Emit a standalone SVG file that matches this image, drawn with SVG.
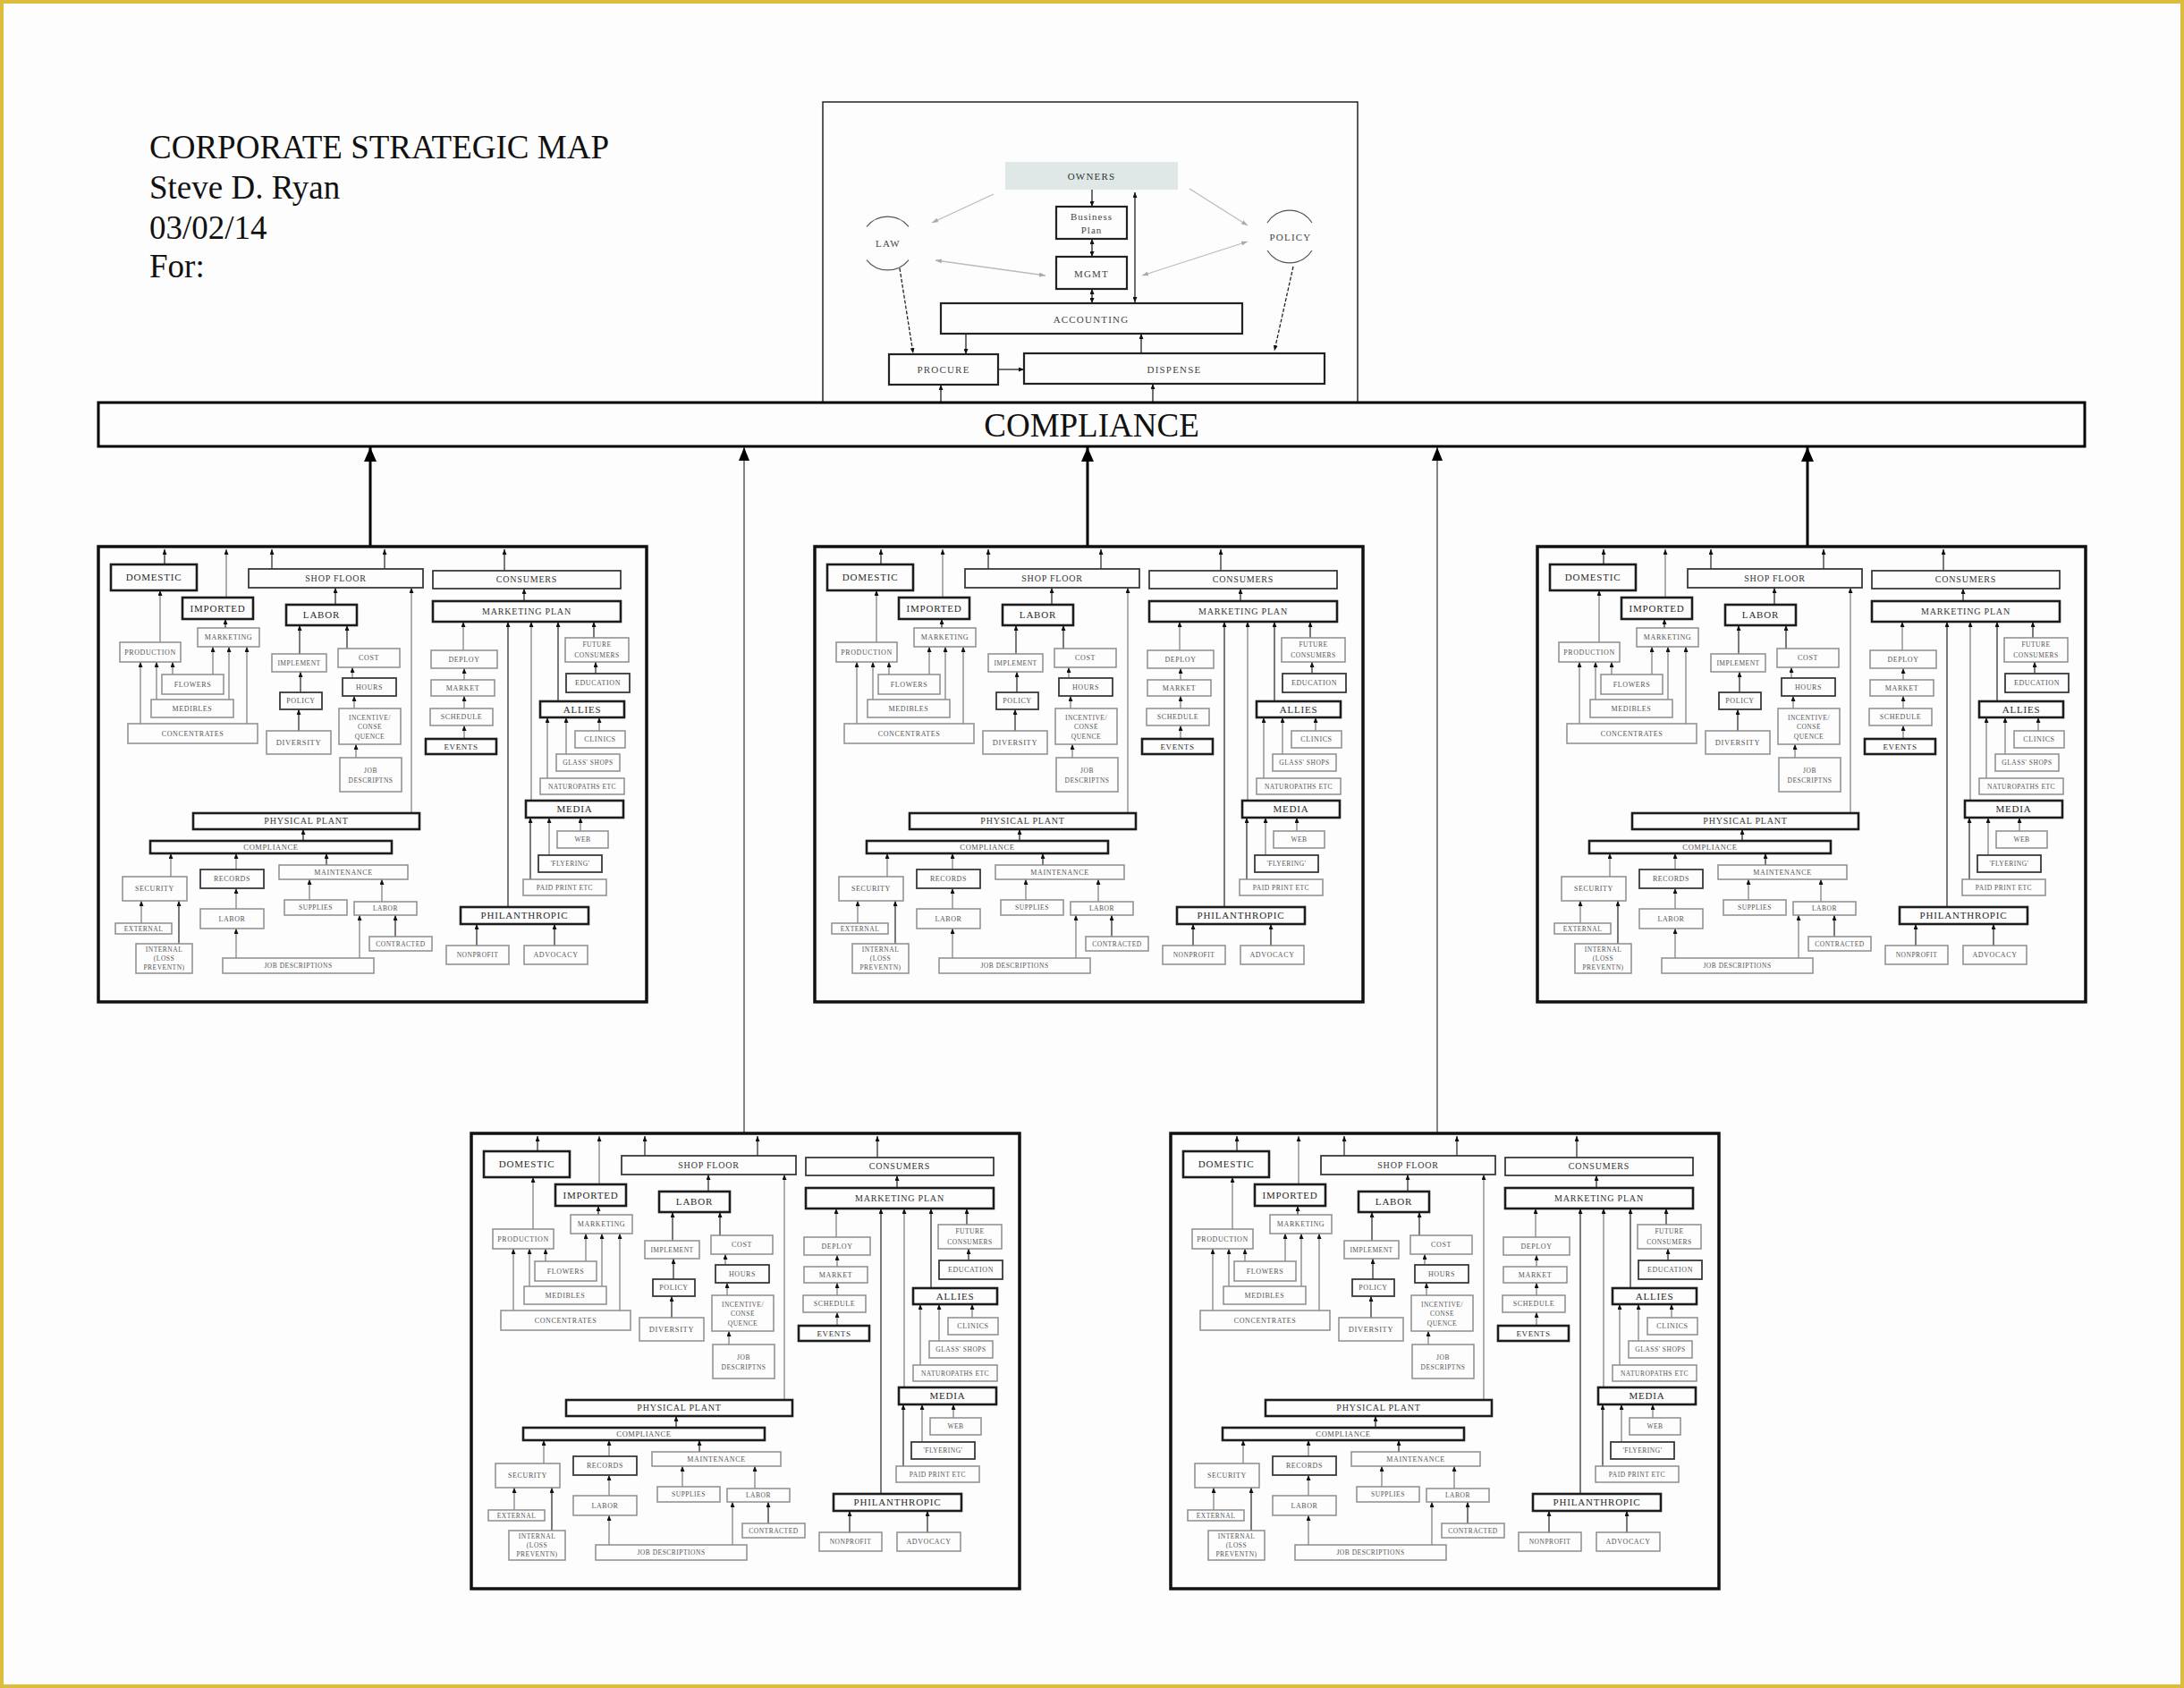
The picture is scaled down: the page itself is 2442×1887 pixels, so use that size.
<svg xmlns="http://www.w3.org/2000/svg" xmlns:xlink="http://www.w3.org/1999/xlink" width="2442" height="1887" viewBox="0 0 2442 1887">
<style>
text{font-family:"Liberation Serif","Times New Roman",serif;text-anchor:middle}
.title{font-size:37px;fill:#111;text-anchor:start}
.rb{fill:#fdfdfd;stroke:#1c1c1c;stroke-width:2.6}
.rm{fill:#fdfdfd;stroke:#3a3a3a;stroke-width:1.8}
.rl{fill:#fdfdfd;stroke:#8c8c8c;stroke-width:1.5}
.tb{font-size:11px;fill:#2a2a2a;letter-spacing:0.8px}
.tm{font-size:10px;fill:#333;letter-spacing:0.8px}
.ts{font-size:8px;fill:#555;letter-spacing:0.6px}
.tx{font-size:7.5px;fill:#555;letter-spacing:0.5px}
.cd{stroke:#333;stroke-width:1.3;fill:none;marker-end:url(#a)}
.cg{stroke:#9a9a9a;stroke-width:1.6;fill:none;marker-end:url(#a)}
.tt{font-size:11px;fill:#444;letter-spacing:1.2px}
.bx{fill:#fdfdfd;stroke:#222;stroke-width:2.2}
.kl{stroke:#222;stroke-width:1.3;fill:none}
.gl{stroke:#bbbbbb;stroke-width:1.3;fill:none}
.arc{stroke:#555;stroke-width:1.2;fill:none}
</style>
<defs>
<marker id="a" markerUnits="userSpaceOnUse" markerWidth="6" markerHeight="5" refX="6" refY="2.5" orient="auto-start-reverse"><path d="M0,0 L6,2.5 L0,5 Z" fill="#111"/></marker>
<marker id="g" markerUnits="userSpaceOnUse" markerWidth="7" markerHeight="5" refX="7" refY="2.5" orient="auto-start-reverse"><path d="M0,0 L7,2.5 L0,5 Z" fill="#aaa"/></marker>
<marker id="A" markerUnits="userSpaceOnUse" markerWidth="16" markerHeight="14" refX="16" refY="7" orient="auto"><path d="M0,0 L16,7 L0,14 Z" fill="#000"/></marker>
<marker id="B" markerUnits="userSpaceOnUse" markerWidth="15" markerHeight="12" refX="15" refY="6" orient="auto"><path d="M0,0 L15,6 L0,12 Z" fill="#000"/></marker>
<g id="panel">
<rect x="110" y="611" width="613" height="509" fill="#fdfdfd" stroke="#111" stroke-width="3.5"/>
<g class="connectors">
<line class="cd" x1="184" y1="631" x2="184" y2="614"/>
<line class="cg" x1="253" y1="668" x2="253" y2="614"/>
<line class="cd" x1="304" y1="636" x2="304" y2="614"/>
<line class="cd" x1="430" y1="636" x2="430" y2="614"/>
<line class="cd" x1="564" y1="638" x2="564" y2="614"/>
<line class="cd" x1="252" y1="702" x2="252" y2="692"/>
<line class="cg" x1="179" y1="718" x2="179" y2="660"/>
<line class="cg" x1="157" y1="809" x2="157" y2="740"/>
<line class="cg" x1="175" y1="782" x2="175" y2="740"/>
<line class="cg" x1="193" y1="754" x2="193" y2="740"/>
<line class="cg" x1="238" y1="754" x2="238" y2="723"/>
<line class="cg" x1="256" y1="782" x2="256" y2="723"/>
<line class="cg" x1="276" y1="809" x2="276" y2="723"/>
<line class="cd" x1="375" y1="676" x2="375" y2="657"/>
<line class="cg" x1="460" y1="909" x2="460" y2="657"/>
<line class="cd" x1="335" y1="731" x2="335" y2="699"/>
<line class="cd" x1="388" y1="725" x2="388" y2="699"/>
<line class="cd" x1="336" y1="774" x2="336" y2="751"/>
<line class="cd" x1="334" y1="817" x2="334" y2="793"/>
<line class="cg" x1="394" y1="758" x2="394" y2="746"/>
<line class="cg" x1="396" y1="792" x2="396" y2="778"/>
<line class="cg" x1="398" y1="847" x2="398" y2="832"/>
<line class="cd" x1="586" y1="672" x2="586" y2="658"/>
<line class="cg" x1="518" y1="727" x2="518" y2="695"/>
<line class="cg" x1="519" y1="760" x2="519" y2="747"/>
<line class="cg" x1="519" y1="792" x2="519" y2="778"/>
<line class="cg" x1="519" y1="826" x2="519" y2="811"/>
<line class="cd" x1="568" y1="1014" x2="568" y2="695"/>
<line class="cg" x1="594" y1="895" x2="594" y2="695"/>
<line class="cd" x1="624" y1="784" x2="624" y2="695"/>
<line class="cd" x1="664" y1="713" x2="664" y2="695"/>
<line class="cd" x1="666" y1="753" x2="666" y2="740"/>
<line class="cg" x1="670" y1="817" x2="670" y2="802"/>
<line class="cg" x1="633" y1="843" x2="633" y2="802"/>
<line class="cg" x1="612" y1="870" x2="612" y2="802"/>
<line class="cg" x1="649" y1="929" x2="649" y2="914"/>
<line class="cg" x1="614" y1="956" x2="614" y2="914"/>
<line class="cd" x1="593" y1="983" x2="593" y2="914"/>
<line class="cd" x1="533" y1="1057" x2="533" y2="1033"/>
<line class="cd" x1="620" y1="1057" x2="620" y2="1033"/>
<line class="cd" x1="339" y1="940" x2="339" y2="927"/>
<line class="cg" x1="191" y1="980" x2="191" y2="954"/>
<line class="cg" x1="264" y1="972" x2="264" y2="954"/>
<line class="cd" x1="365" y1="967" x2="365" y2="954"/>
<line class="cg" x1="158" y1="1032" x2="158" y2="1007"/>
<line class="cd" x1="200" y1="1055" x2="200" y2="1007"/>
<line class="cg" x1="264" y1="1016" x2="264" y2="993"/>
<line class="cg" x1="346" y1="1006" x2="346" y2="983"/>
<line class="cg" x1="427" y1="1008" x2="427" y2="983"/>
<line class="cd" x1="442" y1="1047" x2="442" y2="1023"/>
<line class="cg" x1="264" y1="1071" x2="264" y2="1038"/>
<line class="cg" x1="402" y1="1071" x2="402" y2="1023"/>
</g>
<g id="p-domestic"><rect class="rb" x="124" y="631" width="96" height="29"/><text class="tb" x="172" y="649">DOMESTIC</text></g>
<g id="p-imported"><rect class="rb" x="204" y="668" width="79" height="24"/><text class="tb" x="243.5" y="683.7">IMPORTED</text></g>
<g id="p-shopfloor"><rect class="rm" x="278" y="636" width="195" height="21"/><text class="tm" x="375.5" y="649.8">SHOP FLOOR</text></g>
<g id="p-consumers"><rect class="rm" x="484" y="638" width="210" height="20"/><text class="tm" x="589" y="651.3">CONSUMERS</text></g>
<g id="p-mplan"><rect class="rb" x="484" y="672" width="210" height="23"/><text class="tm" x="589" y="687">MARKETING PLAN</text></g>
<g id="p-marketing"><rect class="rl" x="221" y="702" width="69" height="21"/><text class="ts" x="255.5" y="715.2">MARKETING</text></g>
<g id="p-production"><rect class="rl" x="134" y="718" width="68" height="22"/><text class="ts" x="168" y="731.7">PRODUCTION</text></g>
<g id="p-labor"><rect class="rb" x="320" y="676" width="79" height="23"/><text class="tb" x="359.5" y="691.2">LABOR</text></g>
<g id="p-implement"><rect class="rl" x="304" y="731" width="61" height="20"/><text class="tx" x="334.5" y="743.5">IMPLEMENT</text></g>
<g id="p-cost"><rect class="rl" x="378" y="725" width="69" height="21"/><text class="ts" x="412.5" y="738.2">COST</text></g>
<g id="p-hours"><rect class="rm" x="383" y="758" width="60" height="20"/><text class="ts" x="413" y="770.7">HOURS</text></g>
<g id="p-flowers"><rect class="rl" x="181" y="754" width="69" height="22"/><text class="ts" x="215.5" y="767.7">FLOWERS</text></g>
<g id="p-medibles"><rect class="rl" x="169" y="782" width="92" height="20"/><text class="ts" x="215" y="794.7">MEDIBLES</text></g>
<g id="p-concentrates"><rect class="rl" x="143" y="809" width="145" height="22"/><text class="ts" x="215.5" y="822.7">CONCENTRATES</text></g>
<g id="p-policy"><rect class="rm" x="313" y="774" width="47" height="19"/><text class="ts" x="336.5" y="786.2">POLICY</text></g>
<g id="p-diversity"><rect class="rl" x="298" y="817" width="72" height="26"/><text class="ts" x="334" y="833" style="font-size:8.5px">DIVERSITY</text></g>
<g id="p-incentive"><rect class="rl" x="379" y="792" width="69" height="40"/><text class="tx" x="413.5" y="805">INCENTIVE/</text><text class="tx" x="413.5" y="815">CONSE</text><text class="tx" x="413.5" y="825.5">QUENCE</text></g>
<g id="p-jobd"><rect class="rl" x="380" y="847" width="69" height="38"/><text class="tx" x="414.5" y="864">JOB</text><text class="tx" x="414.5" y="875">DESCRIPTNS</text></g>
<g id="p-deploy"><rect class="rl" x="482" y="727" width="74" height="20"/><text class="ts" x="519" y="739.7">DEPLOY</text></g>
<g id="p-market"><rect class="rl" x="482" y="760" width="71" height="18"/><text class="ts" x="517.5" y="771.7">MARKET</text></g>
<g id="p-schedule"><rect class="rl" x="481" y="792" width="70" height="19"/><text class="ts" x="516" y="804.2">SCHEDULE</text></g>
<g id="p-events"><rect class="rb" x="476" y="826" width="79" height="17"/><text class="ts" x="515.5" y="837.5" style="font-size:9px;fill:#333">EVENTS</text></g>
<g id="p-future"><rect class="rl" x="632" y="713" width="71" height="27"/><text class="tx" x="667.5" y="723">FUTURE</text><text class="tx" x="667.5" y="735">CONSUMERS</text></g>
<g id="p-education"><rect class="rm" x="633" y="753" width="71" height="21"/><text class="ts" x="668.5" y="766.2">EDUCATION</text></g>
<g id="p-allies"><rect class="rb" x="604" y="784" width="94" height="18"/><text class="tb" x="651" y="796.7">ALLIES</text></g>
<g id="p-clinics"><rect class="rl" x="643" y="817" width="56" height="19"/><text class="ts" x="671" y="829.2">CLINICS</text></g>
<g id="p-glass"><rect class="rl" x="622" y="843" width="71" height="19"/><text class="tx" x="657.5" y="855.2">GLASS' SHOPS</text></g>
<g id="p-naturo"><rect class="rl" x="604" y="870" width="94" height="18"/><text class="tx" x="651" y="881.5">NATUROPATHS ETC</text></g>
<g id="p-media"><rect class="rb" x="588" y="895" width="109" height="19"/><text class="tb" x="642.5" y="908.2">MEDIA</text></g>
<g id="p-web"><rect class="rl" x="623" y="929" width="57" height="19"/><text class="tx" x="651.5" y="941">WEB</text></g>
<g id="p-flyering"><rect class="rm" x="602" y="956" width="71" height="19"/><text class="tx" x="637.5" y="968">'FLYERING'</text></g>
<g id="p-paid"><rect class="rl" x="585" y="983" width="93" height="18"/><text class="tx" x="631.5" y="994.5">PAID PRINT ETC</text></g>
<g id="p-phil"><rect class="rb" x="515" y="1014" width="143" height="19"/><text class="tb" x="586.5" y="1027.2">PHILANTHROPIC</text></g>
<g id="p-nonprofit"><rect class="rl" x="499" y="1057" width="70" height="21"/><text class="tx" x="534" y="1070">NONPROFIT</text></g>
<g id="p-advocacy"><rect class="rl" x="586" y="1057" width="71" height="21"/><text class="ts" x="621.5" y="1070">ADVOCACY</text></g>
<g id="p-physical"><rect class="rb" x="216" y="909" width="253" height="18"/><text class="tm" x="342.5" y="921.3">PHYSICAL PLANT</text></g>
<g id="p-compliance"><rect class="rb" x="168" y="940" width="270" height="14"/><text class="ts" x="303" y="950.2" style="font-size:8.5px">COMPLIANCE</text></g>
<g id="p-security"><rect class="rl" x="137" y="980" width="72" height="27"/><text class="ts" x="173" y="996">SECURITY</text></g>
<g id="p-records"><rect class="rm" x="224" y="972" width="71" height="21"/><text class="ts" x="259.5" y="985.2">RECORDS</text></g>
<g id="p-maint"><rect class="rl" x="312" y="967" width="144" height="16"/><text class="ts" x="384" y="977.7">MAINTENANCE</text></g>
<g id="p-external"><rect class="rl" x="129" y="1032" width="63" height="12"/><text class="tx" x="160.5" y="1040.5">EXTERNAL</text></g>
<g id="p-internal"><rect class="rl" x="152" y="1055" width="63" height="33"/><text class="tx" x="183.5" y="1063.5">INTERNAL</text><text class="tx" x="183.5" y="1074">(LOSS</text><text class="tx" x="183.5" y="1084">PREVENTN)</text></g>
<g id="p-labor2"><rect class="rl" x="224" y="1016" width="71" height="22"/><text class="ts" x="259.5" y="1029.7">LABOR</text></g>
<g id="p-supplies"><rect class="rl" x="318" y="1006" width="70" height="17"/><text class="tx" x="353" y="1017">SUPPLIES</text></g>
<g id="p-labor3"><rect class="rl" x="396" y="1008" width="70" height="15"/><text class="tx" x="431" y="1018">LABOR</text></g>
<g id="p-contracted"><rect class="rl" x="413" y="1047" width="70" height="16"/><text class="tx" x="448" y="1057.5">CONTRACTED</text></g>
<g id="p-jobdesc"><rect class="rl" x="249" y="1071" width="169" height="17"/><text class="tx" x="333.5" y="1082">JOB DESCRIPTIONS</text></g>
</g>
</defs>
<rect x="0" y="0" width="2442" height="1887" fill="#fdfdfd"/>
<rect x="2" y="2" width="2438" height="1883" fill="none" stroke="#dcbc3c" stroke-width="4"/>
<g id="title">
<text class="title" x="167" y="177">CORPORATE STRATEGIC MAP</text>
<text class="title" x="167" y="222">Steve D. Ryan</text>
<text class="title" x="167" y="267">03/02/14</text>
<text class="title" x="167" y="310">For:</text>
</g>
<g id="top-frame"><rect x="920" y="114" width="598" height="336" fill="#fdfdfd" stroke="#222" stroke-width="1.5"/></g>
<g id="connectors">
<line class="gl" x1="1111" y1="217" x2="1042" y2="249" marker-end="url(#g)"/>
<line class="gl" x1="1330" y1="211" x2="1395" y2="252" marker-end="url(#g)"/>
<line class="gl" x1="1046" y1="291" x2="1169" y2="308" marker-start="url(#g)" marker-end="url(#g)"/>
<line class="gl" x1="1395" y1="270" x2="1277" y2="308" marker-start="url(#g)" marker-end="url(#g)"/>
<line class="kl" x1="1221" y1="212" x2="1221" y2="231" marker-end="url(#a)"/>
<line class="kl" x1="1221" y1="267" x2="1221" y2="287" marker-start="url(#a)" marker-end="url(#a)"/>
<line class="kl" x1="1221" y1="323" x2="1221" y2="339" marker-start="url(#a)" marker-end="url(#a)"/>
<line class="kl" x1="1269" y1="215" x2="1269" y2="338" marker-start="url(#a)" marker-end="url(#a)"/>
<line class="kl" x1="1006" y1="300" x2="1021" y2="395" stroke-dasharray="4 2" marker-end="url(#a)"/>
<line class="kl" x1="1446" y1="298" x2="1425" y2="392" stroke-dasharray="4 2" marker-end="url(#a)"/>
<line class="kl" x1="1080" y1="373" x2="1080" y2="396" marker-end="url(#a)"/>
<line class="kl" x1="1116" y1="413" x2="1145" y2="413" marker-end="url(#a)"/>
<line class="kl" x1="1276" y1="395" x2="1276" y2="373" marker-end="url(#a)"/>
<line class="kl" x1="1052" y1="450" x2="1052" y2="430" marker-end="url(#a)"/>
<line class="kl" x1="1289" y1="450" x2="1289" y2="429" marker-end="url(#a)"/>
<line x1="414" y1="611" x2="414" y2="500" stroke="#000" stroke-width="3" marker-end="url(#A)"/>
<line x1="1216" y1="611" x2="1216" y2="500" stroke="#000" stroke-width="3" marker-end="url(#A)"/>
<line x1="2021" y1="611" x2="2021" y2="500" stroke="#000" stroke-width="3" marker-end="url(#A)"/>
<line x1="832" y1="1267" x2="832" y2="500" stroke="#333" stroke-width="1.2" marker-end="url(#B)"/>
<line x1="1607" y1="1267" x2="1607" y2="500" stroke="#333" stroke-width="1.2" marker-end="url(#B)"/>
</g>
<g id="owners"><rect x="1124" y="181" width="193" height="31" fill="#dfe7e7"/><text class="tt" x="1220.5" y="200.5" style="fill:#333">OWNERS</text></g>
<g id="business-plan"><rect class="bx" x="1181" y="231" width="79" height="36"/><text class="tt" x="1220.5" y="245.5" style="letter-spacing:1px">Business</text><text class="tt" x="1220.5" y="260.5" style="letter-spacing:1px">Plan</text></g>
<g id="mgmt"><rect class="bx" x="1181" y="287" width="79" height="36"/><text class="tt" x="1220.5" y="309.5">MGMT</text></g>
<g id="law"><path class="arc" d="M969,253.4 A30,30 0 0 1 1016,253.4"/><path class="arc" d="M969,290.6 A30,30 0 0 0 1016,290.6"/><text class="tt" x="993" y="276">LAW</text></g>
<g id="policy"><path class="arc" d="M1417,249 A29.5,29.5 0 0 1 1467,249"/><path class="arc" d="M1417,280 A29.5,29.5 0 0 0 1467,280"/><text class="tt" x="1443" y="268.5">POLICY</text></g>
<g id="accounting"><rect class="bx" x="1052" y="339" width="337" height="34" stroke-width="2.4"/><text class="tt" x="1220" y="360.5">ACCOUNTING</text></g>
<g id="procure"><rect class="bx" x="994" y="396" width="122" height="34"/><text class="tt" x="1055" y="417">PROCURE</text></g>
<g id="dispense"><rect class="bx" x="1145" y="395" width="336" height="34"/><text class="tt" x="1313" y="416.5">DISPENSE</text></g>
<g id="compliance"><rect x="110" y="450" width="2221" height="49" fill="#fdfdfd" stroke="#000" stroke-width="3"/><text x="1220.5" y="488" style="font-size:37px;fill:#111">COMPLIANCE</text></g>
<g id="panels">
<use id="panel-1" xlink:href="#panel" href="#panel"/>
<use id="panel-2" xlink:href="#panel" href="#panel" transform="translate(801,0)"/>
<use id="panel-3" xlink:href="#panel" href="#panel" transform="translate(1609,0)"/>
<use id="panel-4" xlink:href="#panel" href="#panel" transform="translate(417,656)"/>
<use id="panel-5" xlink:href="#panel" href="#panel" transform="translate(1199,656)"/>
</g>
</svg>
